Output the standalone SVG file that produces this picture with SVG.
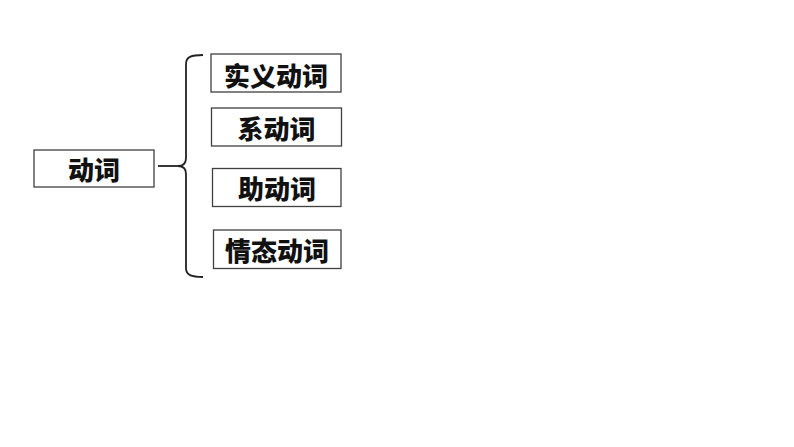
<svg xmlns="http://www.w3.org/2000/svg" width="794" height="447" viewBox="0 0 794 447">
<style>
.box{fill:#fff;stroke:#404040;stroke-width:1.3}
.t{font-family:"Noto Sans CJK SC","Liberation Sans",sans-serif;font-weight:900;font-size:26px;fill:#111;text-anchor:middle;dominant-baseline:central}
.c{fill:none;stroke:#222;stroke-width:1.8}
</style>
<rect width="794" height="447" fill="#fff"/>
<g id="connectors">
<path class="c" d="M158,166 L178,166"/>
<path class="c" d="M203,55 C191,55 186,57 186,64 L186,158 C186,164 183,166 178,166 C183,166 186,168 186,174 L186,268 C186,275 191,277 203,277"/>
</g>
<g id="node-root"><rect class="box" x="34" y="150" width="120" height="37"/><text class="t" x="94" y="168">动词</text></g>
<g id="node-1"><rect class="box" x="211" y="54" width="130" height="38"/><text class="t" x="276" y="74">实义动词</text></g>
<g id="node-2"><rect class="box" x="211.5" y="108" width="130" height="38"/><text class="t" x="276.5" y="127">系动词</text></g>
<g id="node-3"><rect class="box" x="212.5" y="168.5" width="128.5" height="38"/><text class="t" x="277" y="187.5">助动词</text></g>
<g id="node-4"><rect class="box" x="213.5" y="230" width="127.5" height="38.5"/><text class="t" x="277" y="249">情态动词</text></g>
</svg>
